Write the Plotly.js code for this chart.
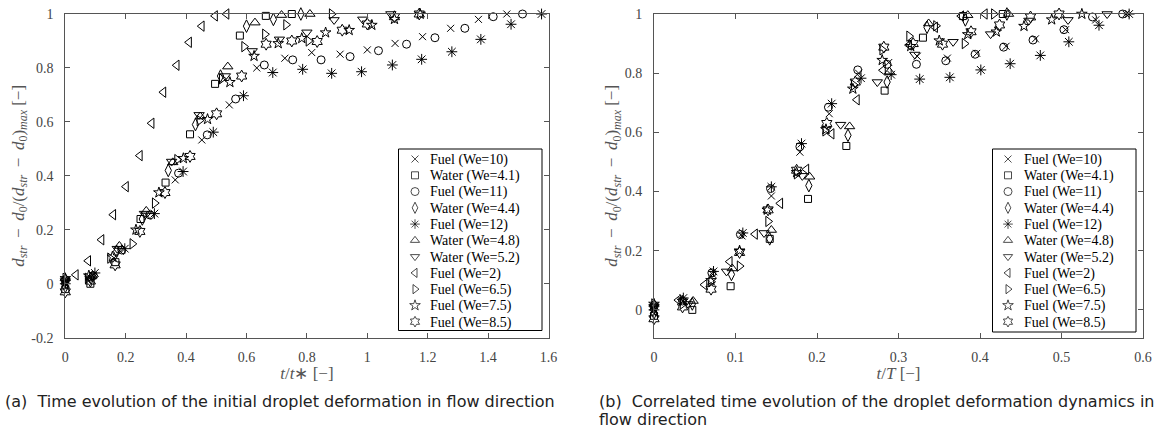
<!DOCTYPE html>
<html><head><meta charset="utf-8">
<script src="https://cdn.plot.ly/plotly-3.0.1.min.js"></script>
<style>html,body{margin:0;padding:0;background:#fff}#chart{width:1158px;height:432px}</style>
</head><body><div id="chart"></div>
<script>
// ---- data ----
const seriesNames = ['Fuel (We=10)','Water (We=4.1)','Fuel (We=11)','Water (We=4.4)','Fuel (We=12)','Water (We=4.8)','Water (We=5.2)','Fuel (We=2)','Fuel (We=6.5)','Fuel (We=7.5)','Fuel (We=8.5)'];

const fuel10_xa = [0,0.091,0.182,0.273,0.364,0.452,0.543,0.634,0.727,0.816,0.91,1.0,1.092,1.183,1.276,1.368,1.462];
const fuel10_xb = [0,0.036,0.072,0.108,0.144,0.179,0.215,0.251,0.288,0.323,0.36,0.396,0.432,0.468,0.505,0.542,0.579];
const fuel10_y  = [0.0,0.03,0.12,0.25,0.385,0.533,0.663,0.8,0.836,0.857,0.851,0.867,0.891,0.916,0.947,0.98,1.0];

const water41_xa = [0,0.083,0.166,0.249,0.332,0.413,0.496,0.578,0.664,0.75];
const water41_xb = [0,0.047,0.094,0.142,0.189,0.236,0.283,0.33,0.379,0.428];
const water41_y  = [-0.02,0.0,0.08,0.24,0.375,0.554,0.741,0.92,0.993,1.0];

const fuel11_xa = [0,0.093,0.187,0.28,0.375,0.47,0.564,0.659,0.753,0.847,0.943,1.037,1.13,1.224,1.323,1.417,1.514];
const fuel11_xb = [0,0.035,0.071,0.106,0.143,0.179,0.214,0.25,0.286,0.322,0.358,0.394,0.429,0.465,0.503,0.538,0.575];
const fuel11_y  = [0.01,0.03,0.125,0.255,0.41,0.552,0.685,0.811,0.83,0.83,0.842,0.864,0.888,0.912,0.947,0.99,1.0];

const water44_xa = [0,0.085,0.17,0.255,0.341,0.431,0.514,0.6,0.689,0.78];
const water44_xb = [0,0.047,0.095,0.142,0.19,0.238,0.286,0.335,0.382,0.433];
const water44_y  = [-0.01,0.02,0.12,0.24,0.42,0.59,0.77,0.955,0.98,1.0];

const fuel12_xa = [0,0.098,0.197,0.295,0.39,0.49,0.59,0.687,0.786,0.882,0.981,1.083,1.18,1.28,1.376,1.476,1.577];
const fuel12_xb = [0,0.036,0.073,0.109,0.144,0.181,0.218,0.254,0.291,0.326,0.363,0.401,0.437,0.474,0.509,0.546,0.583];
const fuel12_y  = [0.0,0.04,0.13,0.26,0.416,0.562,0.697,0.783,0.795,0.78,0.786,0.811,0.832,0.86,0.906,0.962,1.0];

const water48_xa = [0,0.089,0.179,0.268,0.356,0.447,0.538,0.628,0.716,0.81];
const water48_xb = [0,0.048,0.096,0.144,0.191,0.24,0.289,0.337,0.385,0.435];
const water48_y  = [0.02,0.03,0.14,0.27,0.45,0.62,0.805,0.968,0.996,1.0];

const water52_xa = [0,0.082,0.172,0.262,0.352,0.443,0.53,0.619,0.709,0.8,0.89,0.985,1.078];
const water52_xb = [0,0.042,0.089,0.135,0.182,0.229,0.274,0.32,0.367,0.413,0.46,0.508,0.556];
const water52_y  = [0.01,0.02,0.13,0.26,0.453,0.626,0.77,0.863,0.906,0.932,0.978,0.98,1.0];

const fuel2_xa = [0,0.035,0.076,0.12,0.159,0.201,0.247,0.286,0.325,0.369,0.41,0.452,0.496,0.534];
const fuel2_xb = [0,0.03,0.062,0.093,0.124,0.155,0.187,0.218,0.249,0.281,0.313,0.345,0.377,0.406];
const fuel2_y  = [0.0,0.033,0.085,0.163,0.256,0.36,0.475,0.595,0.71,0.81,0.895,0.955,0.993,1.0];

const fuel65_xa = [0,0.074,0.148,0.222,0.296,0.37,0.444,0.518,0.592,0.661,0.731,0.805,0.882];
const fuel65_xb = [0,0.035,0.07,0.105,0.14,0.175,0.21,0.245,0.28,0.313,0.346,0.381,0.417];
const fuel65_y  = [0.02,0.02,0.095,0.148,0.299,0.46,0.605,0.76,0.879,0.925,0.96,0.9,1.0];

const fuel75_xa = [0,0.078,0.156,0.234,0.31,0.391,0.471,0.545,0.625,0.705,0.783,0.862,0.94,1.015,1.09,1.175];
const fuel75_xb = [0,0.035,0.07,0.105,0.139,0.175,0.211,0.244,0.28,0.315,0.35,0.385,0.42,0.454,0.488,0.525];
const fuel75_y  = [0.02,0.03,0.1,0.2,0.338,0.465,0.61,0.747,0.844,0.891,0.91,0.931,0.94,0.959,0.981,1.0];

const fuel85_xa = [0,0.083,0.165,0.247,0.33,0.413,0.501,0.584,0.665,0.75,0.834,0.917,1.0,1.09,1.172];
const fuel85_xb = [0,0.035,0.07,0.105,0.14,0.175,0.212,0.247,0.282,0.318,0.354,0.389,0.424,0.462,0.497];
const fuel85_y  = [-0.03,0.01,0.07,0.194,0.338,0.472,0.63,0.77,0.888,0.9,0.898,0.94,0.963,0.99,1.0];

const xTicksA = [0,0.2,0.4,0.6,0.8,1,1.2,1.4,1.6];
const xTickTextA = ['0','0.2','0.4','0.6','0.8','1','1.2','1.4','1.6'];
const yTicksA = [-0.2,0,0.2,0.4,0.6,0.8,1];
const yTickTextA = ['-0.2','0','0.2','0.4','0.6','0.8','1'];
const xTicksB = [0,0.1,0.2,0.3,0.4,0.5,0.6];
const xTickTextB = ['0','0.1','0.2','0.3','0.4','0.5','0.6'];
const yTicksB = [0,0.2,0.4,0.6,0.8,1];
const yTickTextB = ['0','0.2','0.4','0.6','0.8','1'];

// ---- build ----
const seriesA = [fuel10_xa,water41_xa,fuel11_xa,water44_xa,fuel12_xa,water48_xa,water52_xa,fuel2_xa,fuel65_xa,fuel75_xa,fuel85_xa];
const seriesB = [fuel10_xb,water41_xb,fuel11_xb,water44_xb,fuel12_xb,water48_xb,water52_xb,fuel2_xb,fuel65_xb,fuel75_xb,fuel85_xb];
const seriesY = [fuel10_y,water41_y,fuel11_y,water44_y,fuel12_y,water48_y,water52_y,fuel2_y,fuel65_y,fuel75_y,fuel85_y];
const symbols = ['x-thin-open','square-open','circle-open','diamond-tall-open','asterisk-open','triangle-up-open','triangle-down-open','triangle-left-open','triangle-right-open','star-open','hexagram-open'];
const sizes = [7,7,8,9,9,9,9,9,9,8,9];

const traces = [];
seriesNames.forEach((nm,i)=>{
  const mk = {symbol:symbols[i], size:sizes[i], color:'#000', line:{color:'#000', width:1}};
  traces.push({type:'scatter', mode:'markers', name:nm, x:seriesA[i], y:seriesY[i], xaxis:'x', yaxis:'y', marker:mk, showlegend:false, cliponaxis:false});
  traces.push({type:'scatter', mode:'markers', name:nm, x:seriesB[i], y:seriesY[i], xaxis:'x2', yaxis:'y2', marker:mk, showlegend:false, cliponaxis:false});
});
// legend samples (one marker per series, placed on a category axis of series names)
const legMarker = {symbol:symbols, size:sizes.map(s=>Math.min(s,8)), color:'#000', line:{color:'#000', width:1}};
traces.push({type:'scatter', mode:'markers', x:seriesNames.map(()=>0), y:seriesNames, xaxis:'x3', yaxis:'y3', marker:legMarker, showlegend:false, cliponaxis:false, hoverinfo:'skip'});
traces.push({type:'scatter', mode:'markers', x:seriesNames.map(()=>0), y:seriesNames, xaxis:'x4', yaxis:'y4', marker:legMarker, showlegend:false, cliponaxis:false, hoverinfo:'skip'});

const W=1158, H=432;
const tickFont = {family:'Liberation Serif, serif', size:14, color:'#444'};
const axBase = {showline:true, linecolor:'#555', linewidth:1, mirror:'ticks', ticks:'inside', ticklen:5, tickcolor:'#555', tickwidth:1, showgrid:false, zeroline:false, tickfont:tickFont, automargin:false, fixedrange:true};
const sp = '\u2009';
const ytitle = '<i>d<sub>str</sub></i>'+sp+' − '+sp+'<i>d</i><sub>0</sub>/(<i>d<sub>str</sub></i>'+sp+' − '+sp+'<i>d</i><sub>0</sub>)<sub><i>max</i></sub> [−]';
const titleFont = {family:'Liberation Serif, serif', size:17, color:'#555'};

const yTop = 1-14/H, yBot = 1-337.7/H;
const legRowTop = 1-150.9/H, legRowBot = 1-329.8/H;
const legAxX = {visible:false, range:[-1,1], fixedrange:true, automargin:false};
const legAxY = {type:'category', categoryarray:seriesNames, categoryorder:'array', range:[10.5,-0.5], tickmode:'array', tickvals:seriesNames, ticktext:seriesNames, showline:false, ticks:'', showgrid:false, zeroline:false, side:'right', anchor:'free', automargin:false, fixedrange:true, tickfont:{family:'Liberation Serif, serif', size:14, color:'#000'}, ticklabelstandoff:0};
const capFont = {family:'DejaVu Sans, sans-serif', size:16, color:'#222'};

const layout = {
  width:W, height:H, autosize:false,
  margin:{l:0,r:0,t:0,b:0,pad:0},
  paper_bgcolor:'#fff', plot_bgcolor:'rgba(0,0,0,0)',
  showlegend:false,
  xaxis: Object.assign({}, axBase, {domain:[65.3/W, 548.5/W], range:[0,1.6], tickvals:xTicksA, ticktext:xTickTextA, ticklabelstandoff:6, title:{text:'<i>t</i>/<i>t</i>∗ [−]', font:titleFont, standoff:3}}),
  yaxis: Object.assign({}, axBase, {domain:[yBot,yTop], range:[-0.2,1], tickvals:yTicksA, ticktext:yTickTextA, ticklabelstandoff:8, title:{text:ytitle, font:titleFont, standoff:2}}),
  xaxis2: Object.assign({}, axBase, {domain:[654/W, 1143/W], range:[0,0.6], anchor:'y2', tickvals:xTicksB, ticktext:xTickTextB, ticklabelstandoff:6, title:{text:'<i>t</i>/<i>T</i> [−]', font:titleFont, standoff:3}}),
  yaxis2: Object.assign({}, axBase, {domain:[yBot,yTop], range:[-0.094,1], anchor:'x2', tickvals:yTicksB, ticktext:yTickTextB, ticklabelstandoff:8, title:{text:ytitle, font:titleFont, standoff:2}}),
  xaxis3: Object.assign({}, legAxX, {domain:[406/W, 424/W], anchor:'y3'}),
  yaxis3: Object.assign({}, legAxY, {domain:[legRowBot, legRowTop], position:429/W}),
  xaxis4: Object.assign({}, legAxX, {domain:[999/W, 1017/W], anchor:'y4'}),
  yaxis4: Object.assign({}, legAxY, {domain:[legRowBot, legRowTop], position:1023/W}),
  shapes:[
    {type:'rect', xref:'paper', yref:'paper', x0:398.5/W, x1:542/W, y0:1-330.5/H, y1:1-149/H, line:{color:'#000', width:1}, fillcolor:'#fff', layer:'below'},
    {type:'rect', xref:'paper', yref:'paper', x0:992.5/W, x1:1136/W, y0:1-332/H, y1:1-149/H, line:{color:'#000', width:1}, fillcolor:'#fff', layer:'below'}
  ],
  annotations:[
    {xref:'paper', yref:'paper', x:3/W, y:1-401/H, xanchor:'left', yanchor:'middle', showarrow:false, text:'(a)  Time evolution of the initial droplet deformation in flow direction', font:capFont},
    {xref:'paper', yref:'paper', x:597/W, y:1-401/H, xanchor:'left', yanchor:'middle', showarrow:false, text:'(b)  Correlated time evolution of the droplet deformation dynamics in', font:capFont},
    {xref:'paper', yref:'paper', x:597/W, y:1-419/H, xanchor:'left', yanchor:'middle', showarrow:false, text:'flow direction', font:capFont}
  ]
};

Plotly.newPlot('chart', traces, layout, {displayModeBar:false, staticPlot:true});
</script>
</body></html>
